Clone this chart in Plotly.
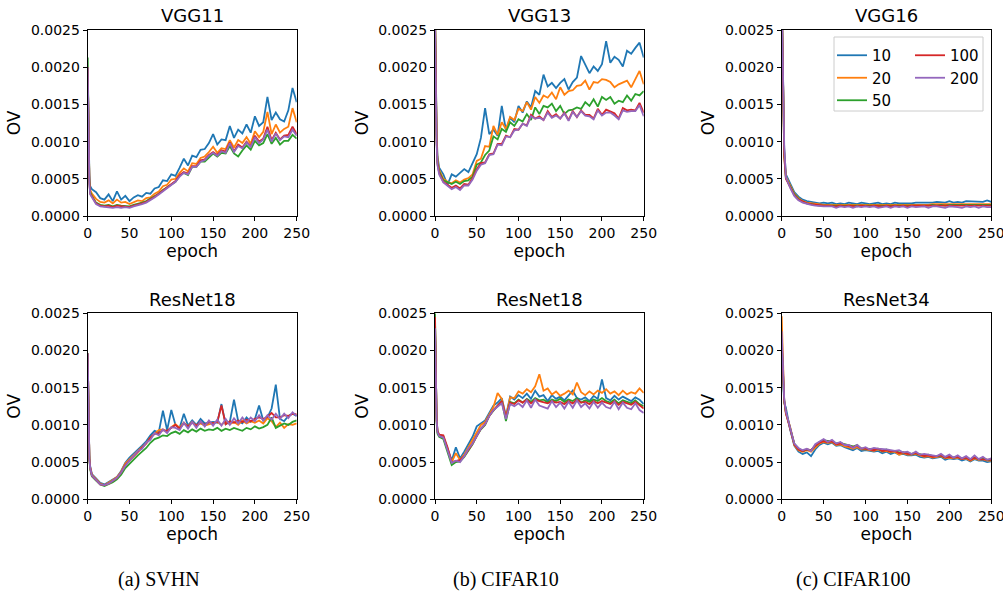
import plotly.graph_objects as go

# ---------------- data (OV values in units of 1e-4) ----------------
EPOCHS = [0, 1, 2, 3] + list(range(5, 251, 5))
UNIT = 1e-4
SERIES = ["10", "20", "50", "100", "200"]
COLORS = ["#1f77b4", "#ff7f0e", "#2ca02c", "#d62728", "#9467bd"]
X_TICKS = [0, 50, 100, 150, 200, 250]
Y_TICKS = [0.0, 0.0005, 0.0010, 0.0015, 0.0020, 0.0025]
TITLES = ["VGG11", "VGG13", "VGG16", "ResNet18", "ResNet18", "ResNet34"]
CAPTIONS = ["(a) SVHN", "(b) CIFAR10", "(c) CIFAR100"]

SVHN_VGG11 = [
    [20.0, 9.0, 5.5, 4.0,
     3.6, 3.2, 2.4, 2.2, 2.9, 2.0, 3.3, 2.2, 2.7, 2.0,
     2.5, 2.8, 2.6, 3.1, 3.0, 3.7, 3.9, 4.8, 4.7, 5.6,
     5.4, 6.5, 7.7, 6.8, 8.1, 7.9, 8.9, 9.0, 9.8, 11.0,
     9.6, 10.3, 10.2, 12.1, 10.5, 11.6, 11.1, 12.3, 11.2, 13.4,
     12.1, 12.6, 16.0, 12.9, 13.9, 13.0, 12.7, 14.2, 17.2, 15.3],
    [20.0, 8.5, 5.0, 3.5,
     3.0, 2.3, 1.9, 1.8, 2.1, 1.7, 2.2, 1.8, 1.9, 1.6,
     1.8, 2.1, 2.0, 2.4, 2.5, 3.0, 3.3, 4.0, 4.2, 4.9,
     5.0, 5.8, 6.4, 6.0, 7.1, 7.0, 7.8, 8.0, 8.6, 9.3,
     8.5, 9.1, 9.0, 10.2, 9.2, 10.2, 9.8, 10.6, 9.7, 11.4,
     10.6, 11.3, 14.0, 11.0, 12.3, 11.2, 11.7, 12.0, 14.5, 12.6],
    [21.3, 8.0, 4.6, 3.2,
     2.7, 1.8, 1.5, 1.4, 1.5, 1.3, 1.5, 1.4, 1.4, 1.3,
     1.5, 1.6, 1.8, 2.0, 2.3, 2.6, 3.0, 3.5, 3.9, 4.3,
     4.6, 5.4, 5.8, 5.5, 6.6, 6.6, 7.3, 7.3, 7.9, 8.4,
     8.0, 8.5, 8.4, 9.4, 8.4, 8.0, 8.8, 9.5, 8.9, 10.1,
     9.5, 9.8, 11.0, 9.7, 10.5, 9.6, 10.1, 10.1, 10.9, 10.4],
    [20.0, 7.8, 4.5, 3.0,
     2.6, 1.7, 1.4, 1.3, 1.4, 1.2, 1.4, 1.3, 1.3, 1.2,
     1.4, 1.5, 1.7, 1.9, 2.2, 2.6, 3.0, 3.4, 3.9, 4.3,
     4.7, 5.5, 5.9, 5.7, 6.7, 6.7, 7.5, 7.6, 8.2, 8.6,
     8.2, 8.8, 8.7, 9.9, 8.7, 9.6, 9.2, 10.0, 9.4, 10.8,
     10.0, 10.4, 12.0, 10.2, 11.2, 10.3, 10.8, 10.9, 12.0, 11.0],
    [20.0, 7.5, 4.3, 2.9,
     2.5, 1.6, 1.3, 1.2, 1.2, 1.1, 1.2, 1.1, 1.2, 1.1,
     1.3, 1.4, 1.6, 1.8, 2.1, 2.5, 2.9, 3.3, 3.8, 4.2,
     4.6, 5.3, 5.8, 5.6, 6.6, 6.6, 7.3, 7.5, 8.1, 8.5,
     8.1, 8.7, 8.5, 9.8, 8.6, 9.4, 9.1, 9.9, 9.3, 10.6,
     9.8, 10.3, 11.6, 10.0, 11.1, 10.2, 10.7, 10.6, 11.6, 10.8],
]

CIFAR10_VGG13 = [
    [28.0, 16.0, 11.0, 8.0,
     6.5, 5.6, 4.2, 5.6, 5.3, 5.8, 6.3, 5.9, 7.0, 8.3,
     10.5, 14.5, 11.0, 11.6, 10.8, 14.8, 11.5, 13.2, 12.6, 14.8,
     13.9, 15.4, 14.6, 16.8, 16.3, 19.0, 17.4, 17.9, 17.2, 17.9,
     18.4, 17.0, 18.0, 18.6, 21.5, 20.4, 19.2, 20.1, 19.5, 20.4,
     23.5, 20.6, 21.4, 21.0, 20.1, 22.2, 21.8, 22.6, 23.3, 21.3],
    [28.0, 15.0, 10.5, 7.5,
     6.2, 5.0, 4.6, 4.4, 4.8, 4.5, 4.9, 5.1, 5.6, 7.4,
     7.7, 9.4, 9.3, 12.1, 10.9, 12.6, 11.7, 13.3, 12.9, 14.4,
     14.1, 15.3, 14.3, 16.0, 15.2, 16.2, 15.9, 16.6, 15.7, 17.3,
     16.3, 16.8, 16.9, 17.5, 17.6, 18.2, 17.0, 18.0, 17.9, 18.4,
     18.3, 18.0, 17.3, 17.7, 18.0, 18.2, 17.3, 18.4, 19.5, 17.7],
    [27.0, 14.5, 10.0, 7.2,
     6.0, 4.8, 4.5, 4.3, 4.6, 4.3, 4.7, 4.8, 5.3, 6.9,
     7.2, 8.2, 8.8, 10.7, 10.3, 11.7, 11.3, 12.6, 12.1, 13.0,
     12.7, 13.7, 12.9, 14.6, 13.7, 14.8, 14.6, 15.1, 14.1, 14.8,
     13.7, 14.2, 14.3, 14.6, 14.4, 15.3, 14.8, 15.7, 14.7, 16.0,
     15.6, 16.0, 15.1, 15.5, 15.3, 16.2, 15.5, 16.4, 16.2, 16.8],
    [27.0, 14.0, 9.8, 7.0,
     5.8, 4.6, 4.2, 3.8, 4.1, 3.7, 4.3, 4.2, 5.1, 6.3,
     7.1, 7.2, 8.3, 8.4, 9.7, 9.7, 10.8, 10.6, 11.7, 11.6,
     12.4, 12.2, 13.6, 13.1, 13.4, 12.9, 14.1, 13.3, 13.7, 13.1,
     13.9, 12.9, 14.1, 13.3, 14.2, 13.6, 13.6, 13.1, 14.4, 13.6,
     14.3, 14.0, 13.8, 13.1, 14.5, 14.2, 14.3, 14.2, 15.2, 13.9],
    [26.0, 13.5, 9.5, 6.8,
     5.6, 4.5, 4.0, 3.6, 3.9, 3.5, 4.1, 4.1, 4.9, 6.1,
     6.9, 7.1, 8.2, 8.3, 9.6, 9.5, 10.7, 10.6, 11.5, 11.6,
     12.4, 12.1, 13.4, 13.1, 13.2, 12.9, 13.9, 13.2, 13.5, 13.1,
     13.8, 12.8, 14.0, 13.3, 14.1, 13.5, 13.4, 13.0, 14.2, 13.5,
     13.9, 13.9, 13.5, 13.0, 14.2, 14.0, 14.1, 14.1, 14.9, 13.4],
]

CIFAR100_VGG16 = [
    [30.0, 22.0, 14.0, 9.0,
     5.6, 4.4, 3.2, 2.6, 2.2, 2.0, 1.9, 1.8, 1.7, 1.8,
     1.7, 1.8, 1.6, 1.7, 1.6, 1.8, 1.7, 1.6, 1.8, 1.7,
     1.6, 1.7, 1.8, 1.6, 1.7, 1.6, 1.8, 1.7, 1.7, 1.6,
     1.7, 1.8, 1.8, 1.7, 1.8, 1.8, 1.9, 1.9, 1.8, 2.0,
     1.8, 1.9, 1.8, 2.0, 2.0, 1.9, 2.0, 1.9, 2.1, 1.9],
    [30.0, 21.0, 13.5, 8.5,
     5.3, 4.1, 3.0, 2.4, 2.0, 1.8, 1.7, 1.6, 1.5, 1.5,
     1.5, 1.5, 1.4, 1.5, 1.5, 1.5, 1.5, 1.4, 1.5, 1.5,
     1.4, 1.5, 1.5, 1.5, 1.5, 1.4, 1.5, 1.5, 1.5, 1.5,
     1.5, 1.5, 1.5, 1.5, 1.5, 1.6, 1.6, 1.6, 1.6, 1.6,
     1.6, 1.6, 1.6, 1.6, 1.7, 1.6, 1.7, 1.6, 1.7, 1.6],
    [30.0, 20.0, 13.0, 8.2,
     5.1, 4.0, 2.9, 2.3, 1.9, 1.7, 1.6, 1.5, 1.4, 1.4,
     1.4, 1.4, 1.3, 1.4, 1.4, 1.4, 1.4, 1.3, 1.4, 1.4,
     1.3, 1.4, 1.4, 1.4, 1.4, 1.3, 1.4, 1.4, 1.4, 1.4,
     1.4, 1.4, 1.4, 1.4, 1.4, 1.5, 1.4, 1.5, 1.4, 1.5,
     1.5, 1.4, 1.5, 1.5, 1.5, 1.5, 1.5, 1.5, 1.5, 1.5],
    [30.0, 20.5, 13.0, 8.0,
     5.0, 3.9, 2.8, 2.2, 1.9, 1.7, 1.6, 1.5, 1.4, 1.4,
     1.4, 1.3, 1.3, 1.4, 1.3, 1.4, 1.3, 1.3, 1.4, 1.3,
     1.3, 1.4, 1.3, 1.3, 1.4, 1.3, 1.4, 1.3, 1.4, 1.3,
     1.4, 1.4, 1.4, 1.4, 1.4, 1.4, 1.4, 1.5, 1.4, 1.4,
     1.5, 1.4, 1.5, 1.4, 1.5, 1.5, 1.4, 1.5, 1.5, 1.4],
    [30.0, 24.0, 16.0, 9.5,
     5.2, 3.8, 2.7, 2.1, 1.8, 1.6, 1.5, 1.4, 1.3, 1.3,
     1.3, 1.3, 1.1, 1.3, 1.2, 1.3, 1.1, 1.3, 1.2, 1.3,
     1.2, 1.3, 1.1, 1.2, 1.3, 1.1, 1.3, 1.2, 1.3, 1.1,
     1.3, 1.2, 1.3, 1.3, 1.1, 1.3, 1.3, 1.2, 1.1, 1.3,
     1.3, 1.2, 1.1, 1.3, 1.2, 1.3, 1.1, 1.3, 1.2, 1.2],
]

SVHN_RESNET18 = [
    [19.6, 9.2, 5.8, 4.4,
     3.4, 2.8, 2.2, 2.0, 2.3, 2.6, 3.0, 3.8, 4.9, 5.6,
     6.1, 6.7, 7.2, 7.8, 8.6, 9.2, 9.0, 11.9, 9.3, 12.0,
     10.0, 9.6, 11.5, 9.9, 10.6, 10.0, 10.8, 10.2, 10.3, 10.4,
     10.3, 12.8, 10.1, 10.4, 13.4, 10.5, 10.2, 11.0, 10.4, 10.8,
     12.6, 10.6, 11.0, 12.2, 15.4, 10.8, 10.5, 11.2, 11.5, 11.2],
    [19.6, 9.1, 5.6, 4.3,
     3.3, 2.7, 2.1, 1.9, 2.2, 2.6, 3.0, 3.7, 4.8, 5.4,
     5.9, 6.5, 7.0, 7.5, 8.3, 8.8, 9.3, 9.4, 9.1, 9.7,
     10.1, 9.6, 10.3, 9.8, 10.4, 9.9, 10.2, 9.9, 10.1, 10.2,
     10.4, 10.0, 10.5, 10.1, 10.4, 10.0, 10.6, 10.2, 10.5, 10.3,
     10.6, 10.2, 10.9, 10.5, 9.7, 10.3, 9.6, 10.1, 10.0, 10.2],
    [19.6, 8.8, 5.3, 4.0,
     3.1, 2.5, 2.0, 1.8, 2.0, 2.3, 2.7, 3.3, 4.2, 4.8,
     5.4, 5.9, 6.4, 6.9, 7.6, 8.1, 8.3, 8.6, 8.5, 8.9,
     9.1, 8.8, 9.3, 9.0, 9.4, 9.1, 9.5, 9.2, 9.4, 9.3,
     9.6, 9.2, 9.5, 9.3, 9.6, 9.4, 9.2, 9.6, 9.4, 9.8,
     9.5, 9.7, 10.0, 11.0, 9.6, 9.9, 10.2, 10.0, 10.4, 10.6],
    [19.6, 9.0, 5.5, 4.2,
     3.2, 2.6, 2.0, 1.9, 2.1, 2.5, 2.9, 3.6, 4.6, 5.2,
     5.8, 6.4, 6.9, 7.5, 8.3, 8.8, 8.9, 9.3, 9.2, 9.6,
     10.0, 9.5, 10.2, 9.8, 10.3, 9.9, 10.4, 10.0, 10.4, 10.2,
     10.4, 12.6, 10.1, 10.5, 10.3, 10.6, 10.4, 10.7, 10.5, 10.8,
     11.0, 10.8, 11.1, 11.6, 11.0, 11.0, 11.3, 11.2, 11.5, 11.4],
    [19.6, 9.0, 5.5, 4.2,
     3.2, 2.6, 2.0, 1.9, 2.1, 2.5, 2.9, 3.6, 4.5, 5.2,
     5.8, 6.5, 6.8, 7.6, 8.0, 8.9, 8.6, 9.4, 8.9, 9.7,
     9.6, 9.3, 10.3, 9.5, 10.4, 9.6, 10.5, 9.8, 10.6, 9.9,
     10.7, 9.9, 10.8, 10.0, 10.9, 10.2, 11.0, 10.3, 11.0, 10.5,
     11.3, 10.6, 11.3, 10.7, 11.5, 10.8, 11.5, 10.9, 11.7, 11.2],
]

CIFAR10_RESNET18 = [
    [24.0, 14.5, 10.8, 9.2,
     8.6, 8.4, 6.8, 5.2, 7.0, 5.5, 6.4, 7.4, 8.4, 9.8,
     10.2, 10.6, 11.6, 12.6, 13.0, 13.6, 11.2, 13.8, 13.4, 14.0,
     13.6, 14.2, 13.5, 14.6, 13.8, 14.0, 13.2, 14.0, 13.5, 13.8,
     13.3, 14.0, 14.6, 13.6, 13.4, 13.7, 13.2, 13.9, 13.5, 16.1,
     13.6, 13.3, 13.9, 13.4, 13.8, 13.5, 13.2, 13.7, 13.4, 12.8],
    [24.0, 14.2, 10.6, 9.0,
     8.5, 8.3, 6.6, 5.0, 6.2, 5.3, 6.0, 7.0, 8.0, 9.2,
     10.0, 10.4, 11.4, 12.4, 14.3, 13.5, 11.0, 13.7, 13.6, 14.5,
     14.2, 14.8, 14.4, 15.2, 16.8, 14.6, 14.9, 14.1, 14.5, 13.9,
     14.2, 14.6, 14.1, 15.7, 14.4, 14.0, 14.5, 14.1, 14.6, 14.3,
     14.8, 14.2, 14.5, 14.0, 14.6, 14.1, 14.4, 14.2, 14.9, 14.3],
    [25.0, 14.0, 10.2, 8.8,
     8.4, 8.1, 6.4, 4.6, 5.0, 5.1, 5.7, 6.6, 7.4, 8.5,
     9.4, 10.0, 11.2, 11.9, 12.6, 13.2, 10.5, 13.1, 12.9, 13.4,
     13.0, 13.5, 13.1, 13.6, 13.3, 13.4, 13.0, 13.4, 13.2, 13.5,
     13.1, 13.4, 13.2, 13.6, 13.0, 13.3, 13.1, 13.4, 13.2, 13.6,
     13.2, 13.0, 13.4, 12.9, 13.3, 13.1, 12.9, 13.3, 12.8, 12.5],
    [24.5, 14.2, 10.6, 9.2,
     8.7, 8.6, 7.0, 5.0, 5.1, 5.3, 5.8, 6.6, 7.5, 8.5,
     9.5, 10.1, 11.2, 12.0, 12.6, 13.2, 11.0, 13.0, 12.8, 13.3,
     13.0, 13.4, 12.9, 13.4, 13.2, 13.0, 12.9, 13.2, 13.0, 13.1,
     12.8, 13.2, 12.9, 13.4, 13.0, 13.1, 12.8, 13.2, 12.9, 13.2,
     13.0, 12.8, 13.2, 12.7, 13.1, 12.9, 12.7, 13.1, 12.6, 12.2],
    [23.0, 14.0, 10.5, 9.0,
     8.5, 8.3, 6.5, 4.9, 5.2, 5.0, 5.8, 6.8, 7.5, 8.6,
     9.5, 10.1, 11.2, 12.0, 12.4, 12.9, 10.8, 12.8, 12.5, 12.9,
     12.4, 13.3, 12.3, 13.4, 12.6, 12.4, 12.2, 13.2, 12.4, 13.0,
     12.2, 13.1, 12.3, 13.3, 12.4, 12.9, 12.2, 13.1, 12.3, 13.0,
     12.4, 12.2, 13.1, 12.1, 13.0, 12.3, 12.1, 12.9, 12.0, 11.6],
]

CIFAR100_RESNET34 = [
    [20.0, 18.0, 15.4, 13.0,
     12.3, 9.4, 7.2, 6.4, 6.1, 6.3, 5.8, 6.7, 7.3, 7.6,
     7.4, 7.6, 7.2, 7.3, 7.0, 6.8, 6.6, 6.9, 6.5, 6.6,
     6.5, 6.4, 6.5, 6.2, 6.4, 6.1, 6.3, 6.0, 6.1, 5.9,
     5.9, 6.0, 5.7, 5.6, 5.7, 5.5, 5.6, 5.7, 5.3, 5.5,
     5.4, 5.5, 5.2, 5.4, 5.1, 5.4, 5.2, 5.2, 5.0, 5.1],
    [24.6, 19.5, 15.7, 13.2,
     11.5, 9.8, 7.3, 6.6, 6.4, 6.6, 6.4, 7.0, 7.5, 7.7,
     7.6, 7.7, 7.3, 7.4, 7.1, 7.0, 6.8, 7.0, 6.7, 6.7,
     6.6, 6.5, 6.7, 6.4, 6.5, 6.3, 6.4, 6.0, 6.2, 6.0,
     6.0, 6.1, 5.9, 5.7, 5.8, 5.6, 5.7, 5.8, 5.5, 5.6,
     5.5, 5.6, 5.4, 5.5, 5.2, 5.5, 5.3, 5.4, 5.2, 5.2],
    [21.0, 18.5, 15.5, 13.3,
     11.7, 9.7, 7.5, 6.8, 6.5, 6.7, 6.6, 7.2, 7.7, 7.9,
     7.8, 7.8, 7.5, 7.6, 7.4, 7.3, 7.1, 7.3, 6.8, 6.8,
     6.7, 6.7, 6.8, 6.5, 6.7, 6.4, 6.5, 6.3, 6.3, 6.2,
     6.1, 6.2, 6.0, 5.9, 6.0, 5.8, 5.8, 5.9, 5.6, 5.8,
     5.6, 5.7, 5.5, 5.6, 5.4, 5.6, 5.4, 5.5, 5.3, 5.3],
    [21.5, 18.8, 15.6, 13.3,
     11.6, 9.6, 7.4, 6.7, 6.5, 6.7, 6.6, 7.2, 7.6, 7.8,
     7.7, 7.8, 7.4, 7.5, 7.3, 7.1, 7.0, 7.2, 6.8, 6.8,
     6.7, 6.6, 6.8, 6.5, 6.6, 6.4, 6.5, 6.2, 6.3, 6.1,
     6.1, 6.2, 6.0, 5.8, 5.9, 5.7, 5.8, 5.9, 5.6, 5.7,
     5.6, 5.7, 5.4, 5.6, 5.3, 5.6, 5.4, 5.4, 5.3, 5.3],
    [22.6, 19.0, 15.8, 13.5,
     11.8, 9.6, 7.5, 6.9, 6.6, 6.8, 6.5, 7.4, 7.8, 8.1,
     7.7, 8.0, 7.5, 7.7, 7.3, 7.3, 6.9, 7.3, 6.8, 7.0,
     6.7, 6.9, 6.8, 6.8, 6.7, 6.6, 6.5, 6.6, 6.3, 6.4,
     6.1, 6.4, 6.0, 6.1, 6.0, 6.0, 5.8, 6.1, 5.7, 6.0,
     5.6, 5.9, 5.5, 5.8, 5.4, 5.9, 5.4, 5.7, 5.3, 5.5],
]

PANELS = [SVHN_VGG11, CIFAR10_VGG13, CIFAR100_VGG16,
          SVHN_RESNET18, CIFAR10_RESNET18, CIFAR100_RESNET34]

for p in PANELS:
    for s in p:
        assert len(s) == len(EPOCHS), len(s)

# ---------------- layout geometry (pixels) ----------------
W, H = 1003, 592
COL_X = [(87.7, 296.7), (435.0, 643.7), (781.7, 991.3)]
ROW_Y = [(30.0, 216.0), (313.3, 499.3)]
FONT = "DejaVu Sans, Arial, sans-serif"

fig = go.Figure()

for i, panel in enumerate(PANELS):
    sfx = "" if i == 0 else str(i + 1)
    for j, vals in enumerate(panel):
        fig.add_trace(go.Scatter(
            x=EPOCHS, y=[v * UNIT for v in vals], mode="lines",
            name=SERIES[j],
            line=dict(color=COLORS[j], width=1.8),
            showlegend=(i == 2),
            legend="legend" if j < 3 else "legend2",
            xaxis="x" + sfx, yaxis="y" + sfx,
            hoverinfo="skip",
        ))

layout = dict(
    width=W, height=H,
    margin=dict(l=0, r=0, t=0, b=0, autoexpand=False),
    paper_bgcolor="white", plot_bgcolor="white",
    font=dict(family=FONT, color="black"),
    annotations=[], shapes=[],
)

for i in range(6):
    r, c = divmod(i, 3)
    sfx = "" if i == 0 else str(i + 1)
    x0, x1 = COL_X[c]
    y0, y1 = ROW_Y[r]
    common = dict(showline=True, mirror=True, linecolor="black", linewidth=1,
                  ticks="outside", ticklen=4, tickwidth=1, tickcolor="black",
                  showgrid=False, zeroline=False, automargin=False,
                  ticklabeloverflow="allow",
                  tickfont=dict(family=FONT, size=14, color="black"))
    layout["xaxis" + sfx] = dict(
        domain=[x0 / W, x1 / W], anchor="y" + sfx, range=[0, 250],
        tickvals=X_TICKS, ticktext=[str(t) for t in X_TICKS],
        title=dict(text="epoch", font=dict(family=FONT, size=17), standoff=3),
        **common)
    layout["yaxis" + sfx] = dict(
        domain=[1 - y1 / H, 1 - y0 / H], anchor="x" + sfx, range=[0, 0.0025],
        tickvals=Y_TICKS, ticktext=[f"{t:.4f}" for t in Y_TICKS],
        title=dict(text="OV", font=dict(family=FONT, size=17), standoff=5),
        **common)
    layout["annotations"].append(dict(
        text=TITLES[i], xref="paper", yref="paper",
        x=(x0 + x1) / 2 / W, y=1 - (y0 - 14) / H,
        xanchor="center", yanchor="middle", showarrow=False,
        font=dict(family=FONT, size=18, color="black")))

for c, cap in enumerate(CAPTIONS):
    x0, x1 = COL_X[c]
    layout["annotations"].append(dict(
        text=cap, xref="paper", yref="paper",
        x=(x0 + x1) / 2 / W - 0.033, y=1 - 579 / H,
        xanchor="center", yanchor="middle", showarrow=False,
        font=dict(family="Liberation Serif, Times New Roman, serif", size=20,
                  color="black")))

# legend frame (two-column legend inside the VGG16 panel)
layout["shapes"].append(dict(
    type="rect", xref="paper", yref="paper",
    x0=834 / W, x1=983 / W, y0=1 - 111 / H, y1=1 - 37 / H,
    line=dict(color="#cccccc", width=1), fillcolor="rgba(255,255,255,0.8)",
    layer="below"))

leg_common = dict(bgcolor="rgba(0,0,0,0)", borderwidth=0,
                  font=dict(family=FONT, size=15, color="black"),
                  xanchor="left", yanchor="top", tracegroupgap=0)
layout["legend"] = dict(x=832 / W, y=1 - 39 / H, **leg_common)
layout["legend2"] = dict(x=910 / W, y=1 - 39 / H, **leg_common)

fig.update_layout(**layout)
fig.write_html(
    "out.html",
    config={"displayModeBar": False, "staticPlot": True},
    post_script="document.body.style.margin='0px';"
                "document.body.style.overflow='hidden';",
)
